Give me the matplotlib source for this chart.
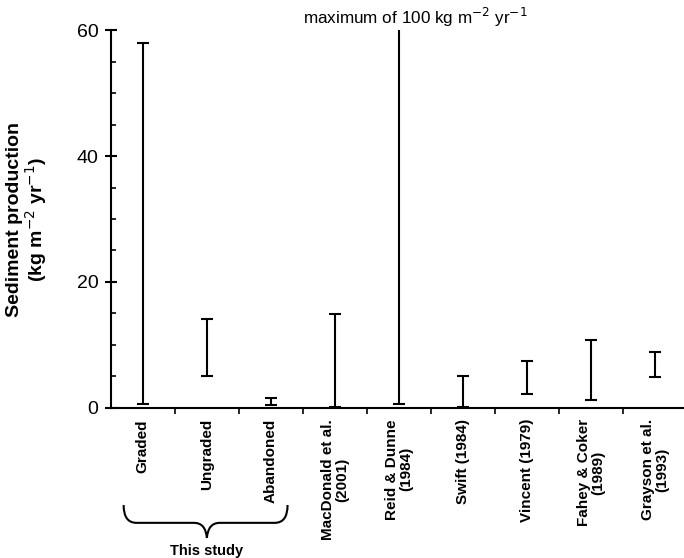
import matplotlib.pyplot as plt
from matplotlib.path import Path
from matplotlib.patches import PathPatch
from matplotlib.transforms import blended_transform_factory
from matplotlib.ticker import MultipleLocator
import numpy as np

plt.rcParams['font.family'] = ['Liberation Sans', 'DejaVu Sans']

# sediment production ranges (kg m-2 yr-1)
studies = ['Graded', 'Ungraded', 'Abandoned', 'MacDonald et al.\n(2001)',
           'Reid & Dunne\n(1984)', 'Swift (1984)', 'Vincent (1979)',
           'Fahey & Coker\n(1989)', 'Grayson et al.\n(1993)']
low = [0.6, 5.1, 0.5, 0.1, 0.6, 0.1, 2.2, 1.3, 4.9]
high = [58.0, 14.1, 1.5, 14.9, 100.0, 5.1, 7.5, 10.8, 8.8]

x = np.arange(len(studies))
low = np.array(low)
high = np.array(high)
mid = (low + high) / 2
half = (high - low) / 2

fig = plt.figure(figsize=(6.84, 5.58), dpi=100)
ax = fig.add_axes([0.162, 0.269, 0.838, 0.677])

ax.errorbar(x, mid, yerr=half, fmt='none', ecolor='black',
            elinewidth=1.5, capsize=4.5, capthick=1.5)

ax.set_xlim(-0.5, 8.45)
ax.set_ylim(0, 60)

ax.spines['top'].set_visible(False)
ax.spines['right'].set_visible(False)
ax.spines['left'].set_linewidth(1.5)
ax.spines['bottom'].set_linewidth(1.5)

ax.yaxis.set_major_locator(MultipleLocator(20))
ax.yaxis.set_minor_locator(MultipleLocator(5))
ax.tick_params(axis='y', which='major', direction='inout', length=8,
               width=1.5, labelsize=14, pad=5)
ax.tick_params(axis='y', which='minor', direction='in', length=3.5, width=1.2)

ax.set_xticks(x)
ax.set_xticklabels(studies, rotation=90, fontsize=11, fontweight='bold',
                   multialignment='center', linespacing=1.0)
ax.set_xticks(x[:-1] + 0.5, minor=True)
ax.tick_params(axis='x', which='major', length=0, pad=8)
ax.tick_params(axis='x', which='minor', direction='out', length=4, width=1.2)

ax.set_ylabel('Sediment production\n(kg m$^{-2}$ yr$^{-1}$)', fontsize=14,
              fontweight='bold', multialignment='center', linespacing=1.0)
ax.yaxis.set_label_coords(-0.108, 0.5)

ax.text(4.25, 62.0, 'maximum of 100 kg m$^{-2}$ yr$^{-1}$', ha='center',
        va='center', fontsize=12.3, clip_on=False)

# brace under "this study"
tr = blended_transform_factory(ax.transData, fig.transFigure)
yt, yh, yp = 0.095, 0.063, 0.036
verts = [(-0.3, yt), (-0.3, yh), (-0.1, yh),
         (0.8, yh), (0.98, yh), (1.0, yp),
         (1.02, yh), (1.2, yh),
         (2.06, yh), (2.26, yh), (2.26, yt)]
codes = [Path.MOVETO, Path.CURVE3, Path.CURVE3,
         Path.LINETO, Path.CURVE3, Path.CURVE3,
         Path.CURVE3, Path.CURVE3,
         Path.LINETO, Path.CURVE3, Path.CURVE3]
ax.add_patch(PathPatch(Path(verts, codes), transform=tr, fill=False,
                       lw=1.5, color='black', clip_on=False))
ax.text(1.0, 0.012, 'This study', transform=tr, ha='center', va='center',
        fontsize=10.5, fontweight='bold')

fig.savefig('out.png', dpi=100)
